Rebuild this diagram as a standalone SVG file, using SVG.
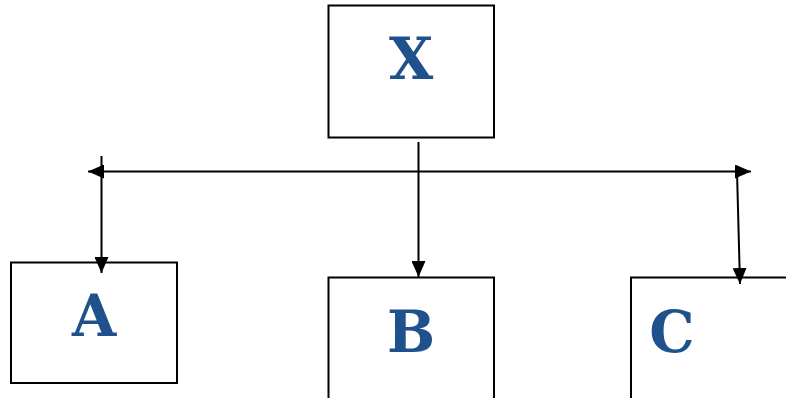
<svg xmlns="http://www.w3.org/2000/svg" width="786" height="398" viewBox="0 0 786 398">
<style>
.box{fill:#fff;stroke:#000;stroke-width:2}
.lbl{font-family:"DejaVu Serif",serif;font-weight:bold;font-size:57px;fill:#1f528c;text-anchor:middle}
.ln{stroke:#000;stroke-width:2;fill:none}
</style>
<defs>
<marker id="ah" viewBox="0 0 16 14" refX="16" refY="7" markerWidth="16" markerHeight="14" markerUnits="userSpaceOnUse" orient="auto-start-reverse">
<path d="M0,0 L16,7 L0,14 Z" fill="#000"/>
</marker>
</defs>
<rect width="786" height="398" fill="#fff"/>
<g id="X"><rect class="box" x="328.5" y="5.5" width="165.5" height="132"/><text class="lbl" x="411" y="79">X</text></g>
<g id="A"><rect class="box" x="11" y="262.5" width="166" height="120.5"/><text class="lbl" x="94" y="336">A</text></g>
<g id="B"><rect class="box" x="328.5" y="277.5" width="165.5" height="130"/><text class="lbl" x="411" y="352">B</text></g>
<g id="C"><rect class="box" x="631" y="277.5" width="170" height="130"/><text class="lbl" x="672" y="352">C</text></g>
<g id="connectors">
<line class="ln" x1="88" y1="171.5" x2="751" y2="171.5" marker-start="url(#ah)" marker-end="url(#ah)"/>
<line class="ln" x1="418.5" y1="142" x2="418.5" y2="277" marker-end="url(#ah)"/>
<line class="ln" x1="101.5" y1="156" x2="101.5" y2="273" marker-end="url(#ah)"/>
<line class="ln" x1="737" y1="171.5" x2="740" y2="284" marker-end="url(#ah)"/>
</g>
</svg>
